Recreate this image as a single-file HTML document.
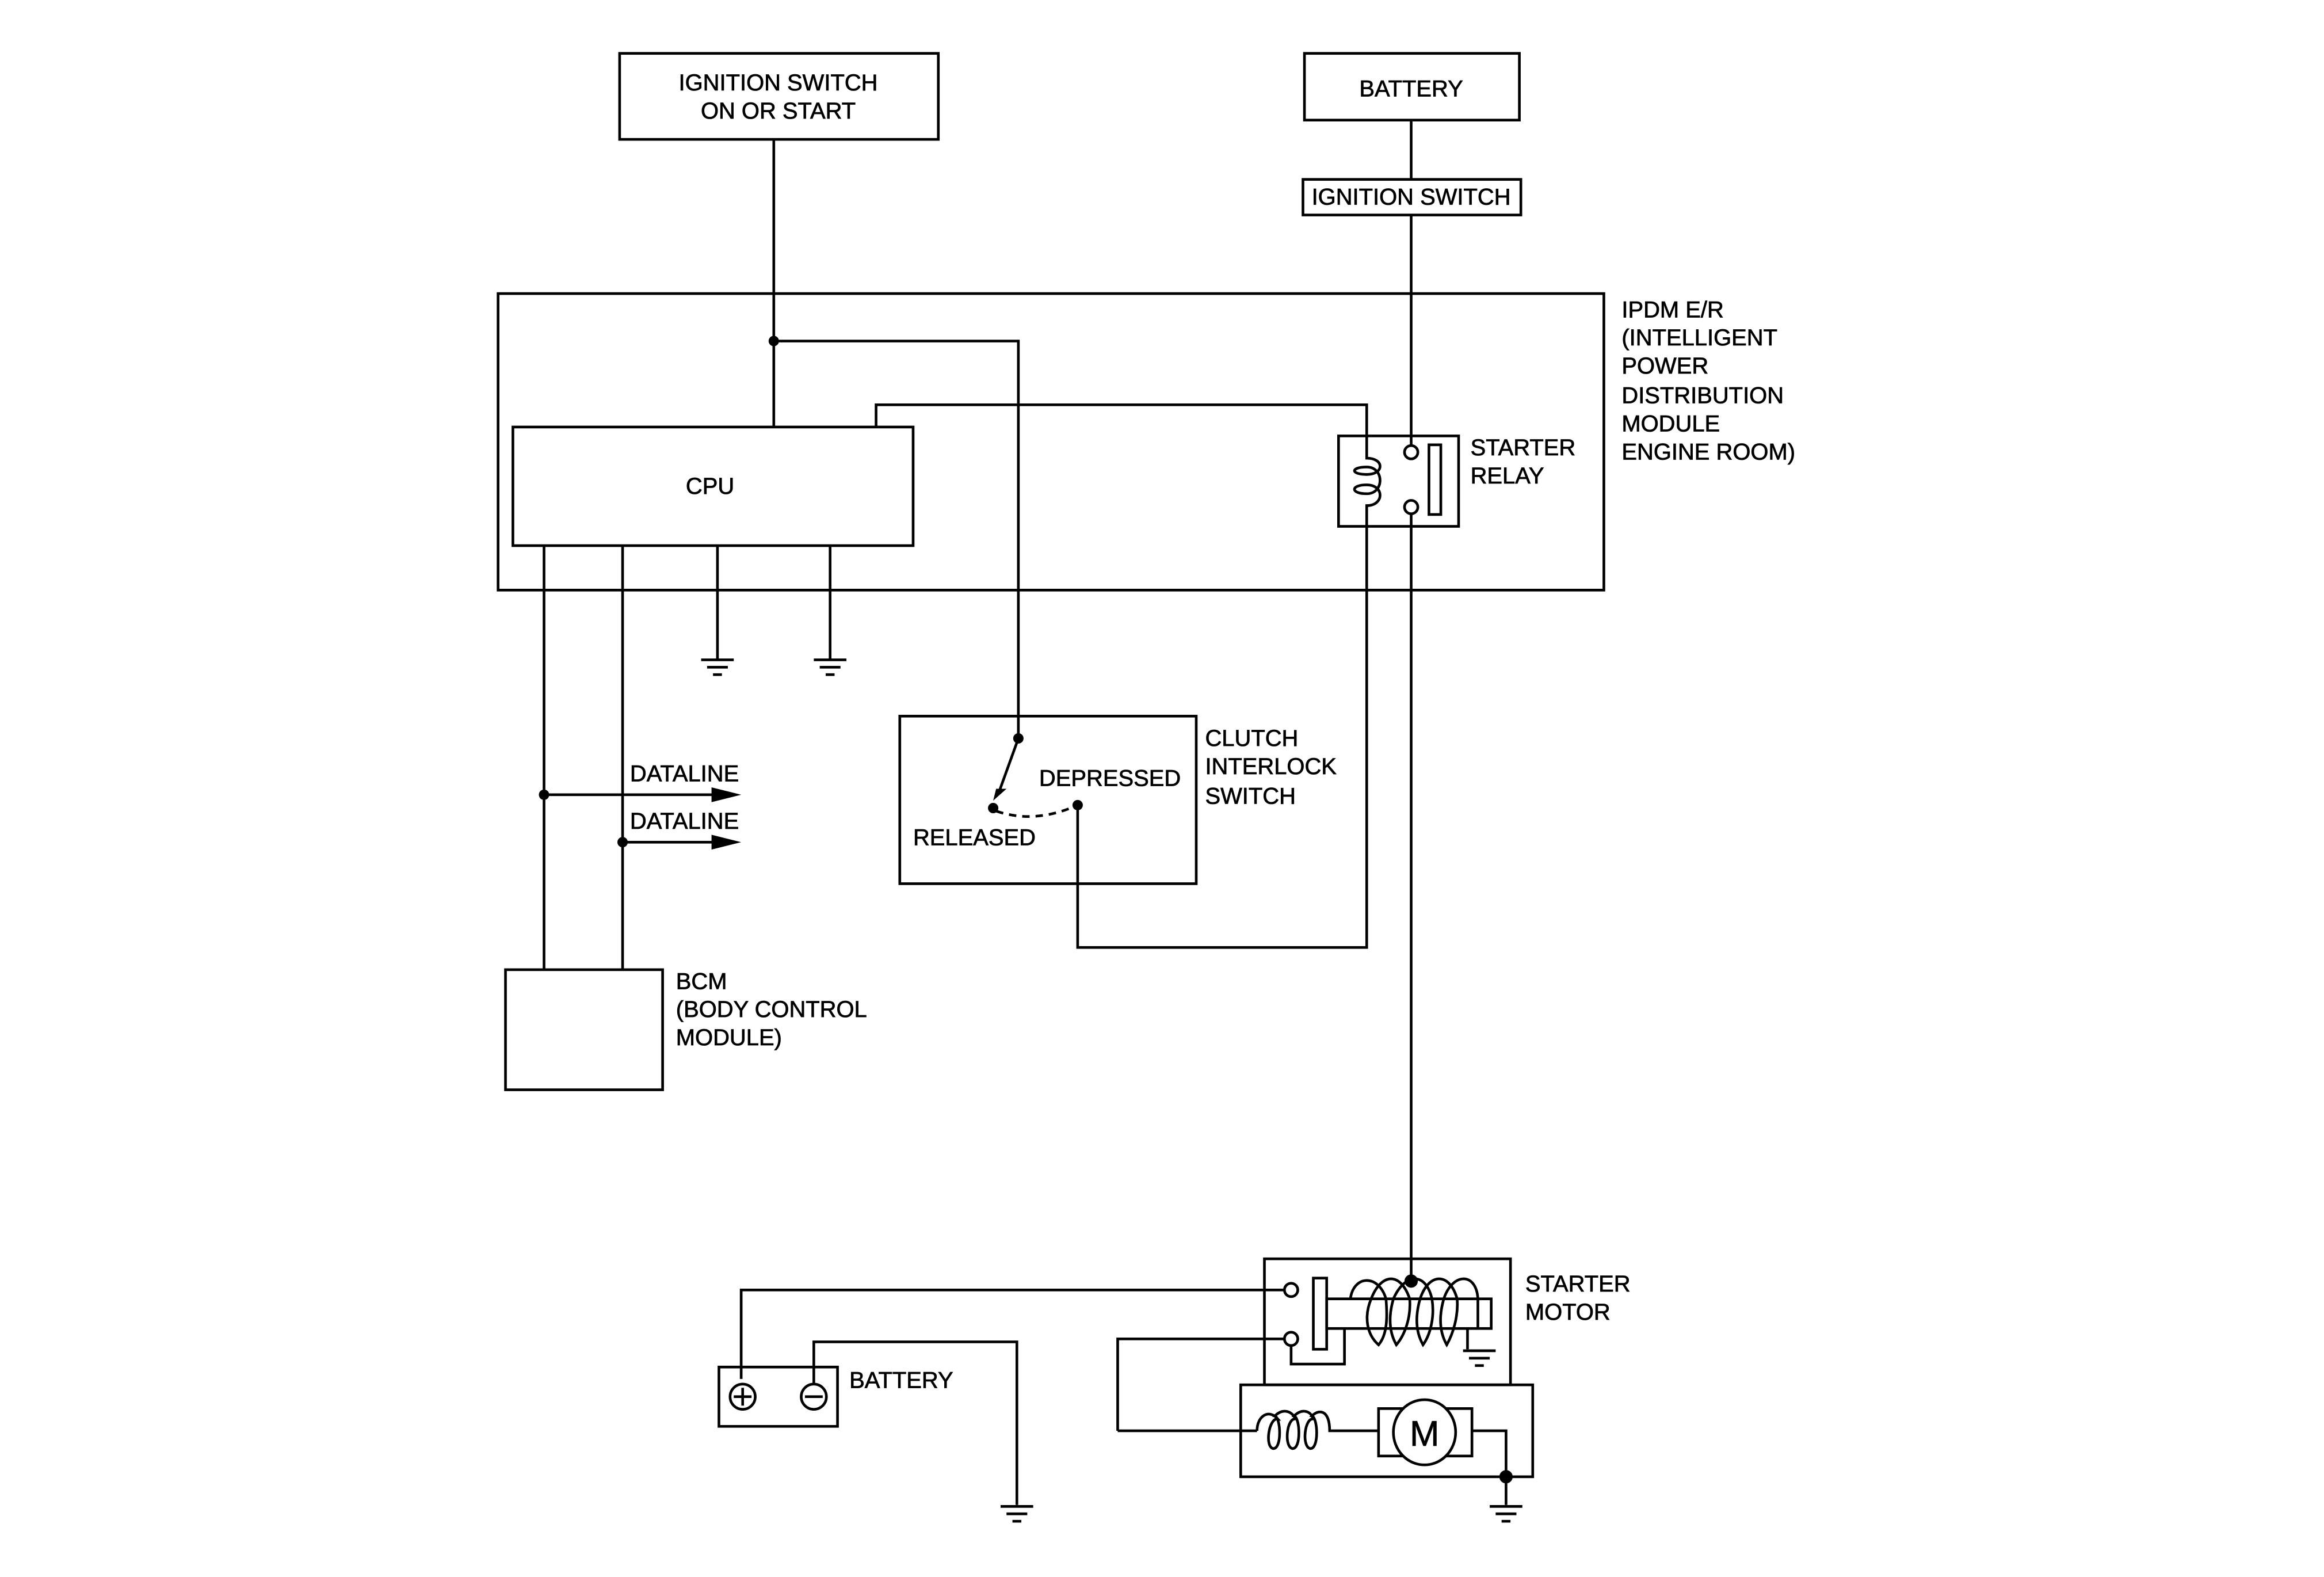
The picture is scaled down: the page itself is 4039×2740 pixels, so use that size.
<!DOCTYPE html>
<html><head><meta charset="utf-8"><style>
html,body{margin:0;padding:0;background:#fff;}
svg{display:block;}
text{font-family:"Liberation Sans",Arial,sans-serif;font-size:15.5px;fill:#000;stroke:#000;stroke-width:0.3;}
</style></head><body>
<svg width="4039" height="2740" viewBox="0 0 1567.8 1063.6" xmlns="http://www.w3.org/2000/svg">
<defs>
<g id="gnd" stroke="#000" stroke-width="1.8" fill="none">
<line x1="-11" y1="0" x2="11" y2="0"/><line x1="-7" y1="5" x2="7" y2="5"/><line x1="-3" y1="10" x2="3" y2="10"/>
</g>
</defs>
<g stroke="#000" stroke-width="1.8" fill="none">
<rect x="418" y="36" width="215" height="58"/>
<line x1="522" y1="94" x2="522" y2="288"/>
<polyline points="522,230 687,230 687,498"/>
<rect x="880" y="36" width="145" height="45"/>
<line x1="952" y1="81" x2="952" y2="121"/>
<rect x="879" y="121" width="147" height="24"/>
<line x1="952" y1="145" x2="952" y2="300"/>
<line x1="952" y1="347" x2="952" y2="864"/>
<rect x="336" y="198" width="746" height="200"/>
<rect x="346" y="288" width="270" height="80"/>
<polyline points="591,288 591,273 922,273 922,294"/>
<rect x="903" y="294" width="81" height="61"/>
<path d="M922,294 V309 C934,309 934,320 922,320 C911,320 911,315 922,315 C934,315 934,333 922,333 C911,333 911,327 922,327 C934,327 934,341 922,341 V355"/>
<circle cx="952" cy="305" r="4.5" fill="#fff"/>
<circle cx="952" cy="342" r="4.5" fill="#fff"/>
<rect x="964" y="300" width="8" height="47"/>
<polyline points="922,355 922,639 727,639 727,543"/>
<line x1="367" y1="368" x2="367" y2="654"/>
<line x1="420" y1="368" x2="420" y2="654"/>
<line x1="484" y1="368" x2="484" y2="445"/>
<line x1="560" y1="368" x2="560" y2="445"/>
<line x1="367" y1="536" x2="490" y2="536"/>
<line x1="420" y1="568" x2="490" y2="568"/>
<rect x="341" y="654" width="106" height="81"/>
<rect x="607" y="483" width="200" height="113"/>
<line x1="687" y1="498" x2="674" y2="534"/>
<path d="M672,547 Q698,556 727,543" stroke-dasharray="5,4"/>
<rect x="853" y="849" width="166" height="85"/>
<rect x="837" y="934" width="197" height="62"/>
<polyline points="500,930 500,870 866,870"/>
<polyline points="754,965 754,903 866,903"/>
<circle cx="871" cy="870" r="4.5" fill="#fff"/>
<circle cx="871" cy="903" r="4.5" fill="#fff"/>
<polyline points="871,908 871,920 907,920 907,896"/>
<rect x="886" y="862" width="9" height="48"/>
<rect x="895" y="876" width="111" height="20"/>
<path d="M911,876 C913,860 930,859 935,876 M925,876 C932,858 945,858 951,876 M940,876 C948,858 962,858 966,876 M958,876 C964,858 978,858 983,876 M974,876 C980,858 996,858 997,876"/>
<path d="M925,876 C920,888 922,900 930,907 C936,900 936,888 935,876 M940,876 C936,890 938,900 942,907 C948,900 952,888 951,876 M958,876 C954,890 956,900 960,907 C965,900 968,888 966,876 M974,876 C970,890 972,900 976,907 C980,900 984,888 983,876"/>
<polyline points="997,876 997,896"/>
<line x1="990" y1="896" x2="990" y2="910"/>
<polyline points="754,965 848,965"/>
<path d="M848,965 C848,955 856,950 862,957 C856,956 853,976 859,977 C865,977 864,956 860,955 C865,950 871,951 874,957 C868,956 866,976 872,977 C878,977 877,956 873,955 C878,950 884,951 886,957 C880,956 878,976 884,977 C890,977 889,956 885,955 C890,950 897,951 897,965 H930"/>
<rect x="930" y="950" width="63" height="32"/>
<ellipse cx="961" cy="966" rx="21" ry="22" fill="#fff"/>
<polyline points="993,965 1016,965 1016,1015"/>
<rect x="485" y="922" width="80" height="40"/>
<circle cx="501" cy="942" r="8.5"/>
<line x1="495" y1="942" x2="507" y2="942"/><line x1="501" y1="936" x2="501" y2="948"/>
<circle cx="549" cy="942" r="8.5"/>
<line x1="543" y1="942" x2="555" y2="942"/>
<polyline points="549,933 549,905 686,905 686,1015"/>
</g>
<use href="#gnd" x="484" y="445"/>
<use href="#gnd" x="560" y="445"/>
<use href="#gnd" x="998" y="911"/>
<use href="#gnd" x="686" y="1016"/>
<use href="#gnd" x="1016" y="1016"/>
<g fill="#000">
<circle cx="522" cy="230" r="3.5"/>
<circle cx="367" cy="536" r="3.5"/>
<circle cx="420" cy="568" r="3.5"/>
<circle cx="687" cy="498" r="3.5"/>
<circle cx="670" cy="545" r="3.5"/>
<circle cx="727" cy="543" r="3.5"/>
<circle cx="952" cy="864" r="4.5"/>
<circle cx="1016" cy="996" r="4.5"/>
<polygon points="480,531 500,536 480,541"/>
<polygon points="480,563 500,568 480,573"/>
<polygon points="670,540 672,532 679,532"/>
</g>
<text x="525" y="61" text-anchor="middle">IGNITION SWITCH</text>
<text x="525" y="80" text-anchor="middle">ON OR START</text>
<text x="952" y="65" text-anchor="middle">BATTERY</text>
<text x="952" y="138" text-anchor="middle">IGNITION SWITCH</text>
<text x="1094" y="214">IPDM E/R</text>
<text x="1094" y="233">(INTELLIGENT</text>
<text x="1094" y="252">POWER</text>
<text x="1094" y="272">DISTRIBUTION</text>
<text x="1094" y="291">MODULE</text>
<text x="1094" y="310">ENGINE ROOM)</text>
<text x="479" y="333" text-anchor="middle">CPU</text>
<text x="992" y="307">STARTER</text>
<text x="992" y="326">RELAY</text>
<text x="425" y="527">DATALINE</text>
<text x="425" y="559">DATALINE</text>
<text x="813" y="503">CLUTCH</text>
<text x="813" y="522">INTERLOCK</text>
<text x="813" y="542">SWITCH</text>
<text x="701" y="530">DEPRESSED</text>
<text x="616" y="570">RELEASED</text>
<text x="456" y="667">BCM</text>
<text x="456" y="686">(BODY CONTROL</text>
<text x="456" y="705">MODULE)</text>
<text x="1029" y="871">STARTER</text>
<text x="1029" y="890">MOTOR</text>
<text x="573" y="936">BATTERY</text>
<text x="961" y="975" text-anchor="middle" style="font-size:24px">M</text>
</svg>
</body></html>
